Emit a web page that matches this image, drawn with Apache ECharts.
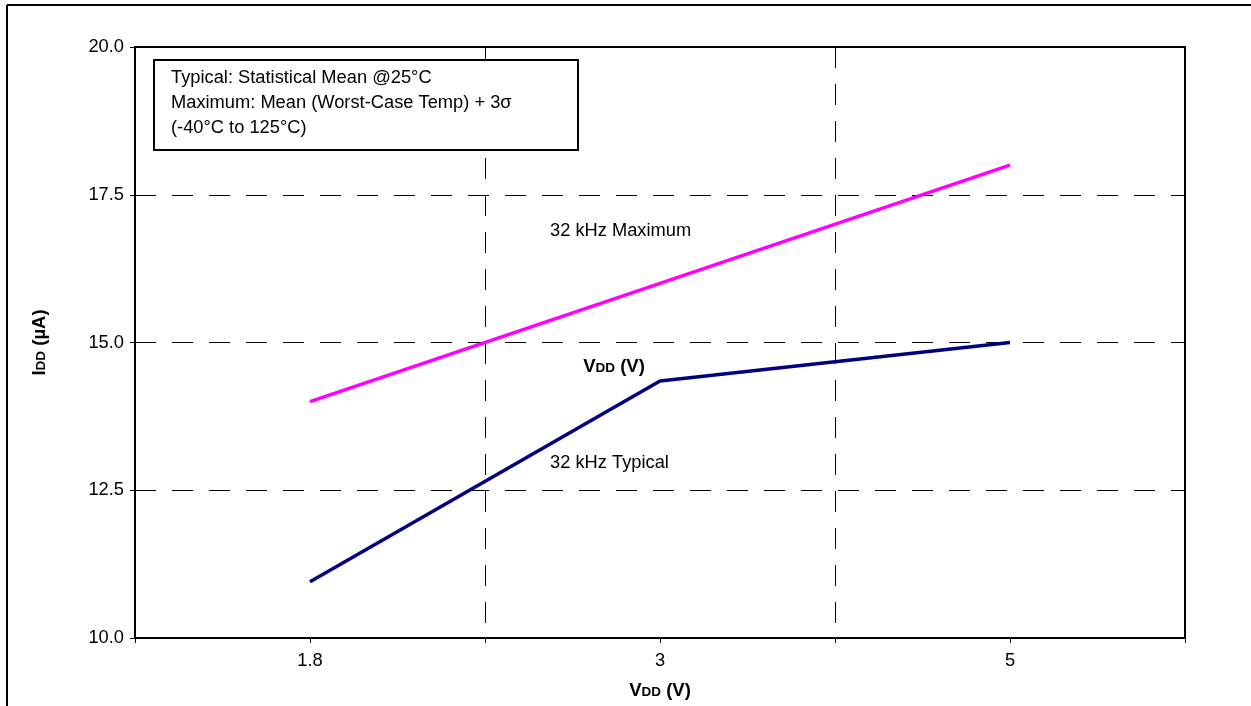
<!DOCTYPE html>
<html>
<head>
<meta charset="utf-8">
<script src="https://cdn.jsdelivr.net/npm/echarts@6/dist/echarts.min.js"></script>
<style>
html,body{margin:0;padding:0;background:#fff;}
#chart{width:1251px;height:706px;}
</style>
</head>
<body>
<div id="chart"></div>
<script>
const categories = ['1.8', '3', '5'];
const maxValues = [14.0, 16.0, 18.0];
const typValues = [10.95, 14.35, 15.0];
const yTicks = { min: 10, max: 20, interval: 2.5 };
const noteLines = ['Typical: Statistical Mean @25°C', 'Maximum: Mean (Worst-Case Temp) + 3σ', '(-40°C to 125°C)'];

const FONT = '"Liberation Sans", Arial, sans-serif';
const FS = 18.3;
const chart = echarts.init(document.getElementById('chart'), null, { renderer: 'canvas' });

const richName = {
  b: { fontFamily: FONT, fontWeight: 'bold', fontSize: 18.5, color: '#000', verticalAlign: 'bottom' },
  s: { fontFamily: FONT, fontWeight: 'bold', fontSize: 13.5, color: '#000', verticalAlign: 'bottom', padding: [0, 0, 1, 0] }
};

chart.setOption({
  animation: false,
  backgroundColor: '#fff',
  grid: {
    left: 135, right: 66, top: 47, bottom: 68,
    show: true, borderColor: '#000', borderWidth: 2, backgroundColor: 'transparent'
  },
  xAxis: [
    {
      type: 'category', data: categories, position: 'bottom', boundaryGap: true,
      axisLine: { show: true, lineStyle: { color: '#000', width: 2 } },
      axisTick: { show: true, alignWithLabel: false, length: 5, lineStyle: { color: '#000', width: 1 } },
      axisLabel: { show: true, margin: 14, fontFamily: FONT, fontSize: FS, color: '#000' },
      splitLine: { show: true, lineStyle: { color: '#000', width: 1, type: [21, 16] } },
      name: '{b|V}{s|DD}{b| (V)}', nameLocation: 'middle', nameGap: 43,
      nameTextStyle: { rich: richName }
    },
    {
      type: 'category', data: categories, position: 'bottom', boundaryGap: true,
      axisLine: { show: false },
      axisTick: { show: true, alignWithLabel: true, length: 5, lineStyle: { color: '#000', width: 1 } },
      axisLabel: { show: false },
      splitLine: { show: false }
    }
  ],
  yAxis: {
    type: 'value', min: yTicks.min, max: yTicks.max, interval: yTicks.interval,
    axisLine: { show: true, lineStyle: { color: '#000', width: 2 } },
    axisTick: { show: true, inside: false, length: 5, lineStyle: { color: '#000', width: 1 } },
    axisLabel: { margin: 11, fontFamily: FONT, fontSize: FS, color: '#000', formatter: v => v.toFixed(1) },
    splitLine: { show: true, lineStyle: { color: '#000', width: 1, type: [21, 16] } },
    name: '{b|I}{s|DD}{b| (µA)}', nameLocation: 'middle', nameGap: 86, nameRotate: 90,
    nameTextStyle: { rich: richName }
  },
  series: [
    {
      name: '32 kHz Maximum', type: 'line', xAxisIndex: 0, data: maxValues,
      symbol: 'none', lineStyle: { color: '#FF00FF', width: 3.5 }, z: 5
    },
    {
      name: '32 kHz Typical', type: 'line', xAxisIndex: 0, data: typValues,
      symbol: 'none', lineStyle: { color: '#000080', width: 3.5 }, z: 5
    }
  ],
  graphic: [
    { type: 'line', shape: { x1: 7, y1: 5, x2: 1251, y2: 5 }, style: { stroke: '#000', lineWidth: 2 } },
    { type: 'line', shape: { x1: 7, y1: 5, x2: 7, y2: 706 }, style: { stroke: '#000', lineWidth: 2 } },
    { type: 'rect', shape: { x: 154, y: 60, width: 424, height: 90 }, style: { fill: '#fff', stroke: '#000', lineWidth: 2 }, z: 10 },
    { type: 'text', x: 171, y: 78, style: { text: noteLines[0], font: FS + 'px ' + FONT, fill: '#000', textVerticalAlign: 'middle' }, z: 11 },
    { type: 'text', x: 171, y: 103, style: { text: noteLines[1], font: FS + 'px ' + FONT, fill: '#000', textVerticalAlign: 'middle' }, z: 11 },
    { type: 'text', x: 171, y: 128, style: { text: noteLines[2], font: FS + 'px ' + FONT, fill: '#000', textVerticalAlign: 'middle' }, z: 11 },
    { type: 'text', x: 550, y: 231, style: { text: '32 kHz Maximum', font: FS + 'px ' + FONT, fill: '#000', textVerticalAlign: 'middle' }, z: 11 },
    { type: 'text', x: 550, y: 463, style: { text: '32 kHz Typical', font: FS + 'px ' + FONT, fill: '#000', textVerticalAlign: 'middle' }, z: 11 },
    { type: 'text', x: 614, y: 367, style: { text: '{b|V}{s|DD}{b| (V)}', rich: richName, align: 'center', verticalAlign: 'middle' }, z: 11 }
  ]
});
</script>
</body>
</html>
